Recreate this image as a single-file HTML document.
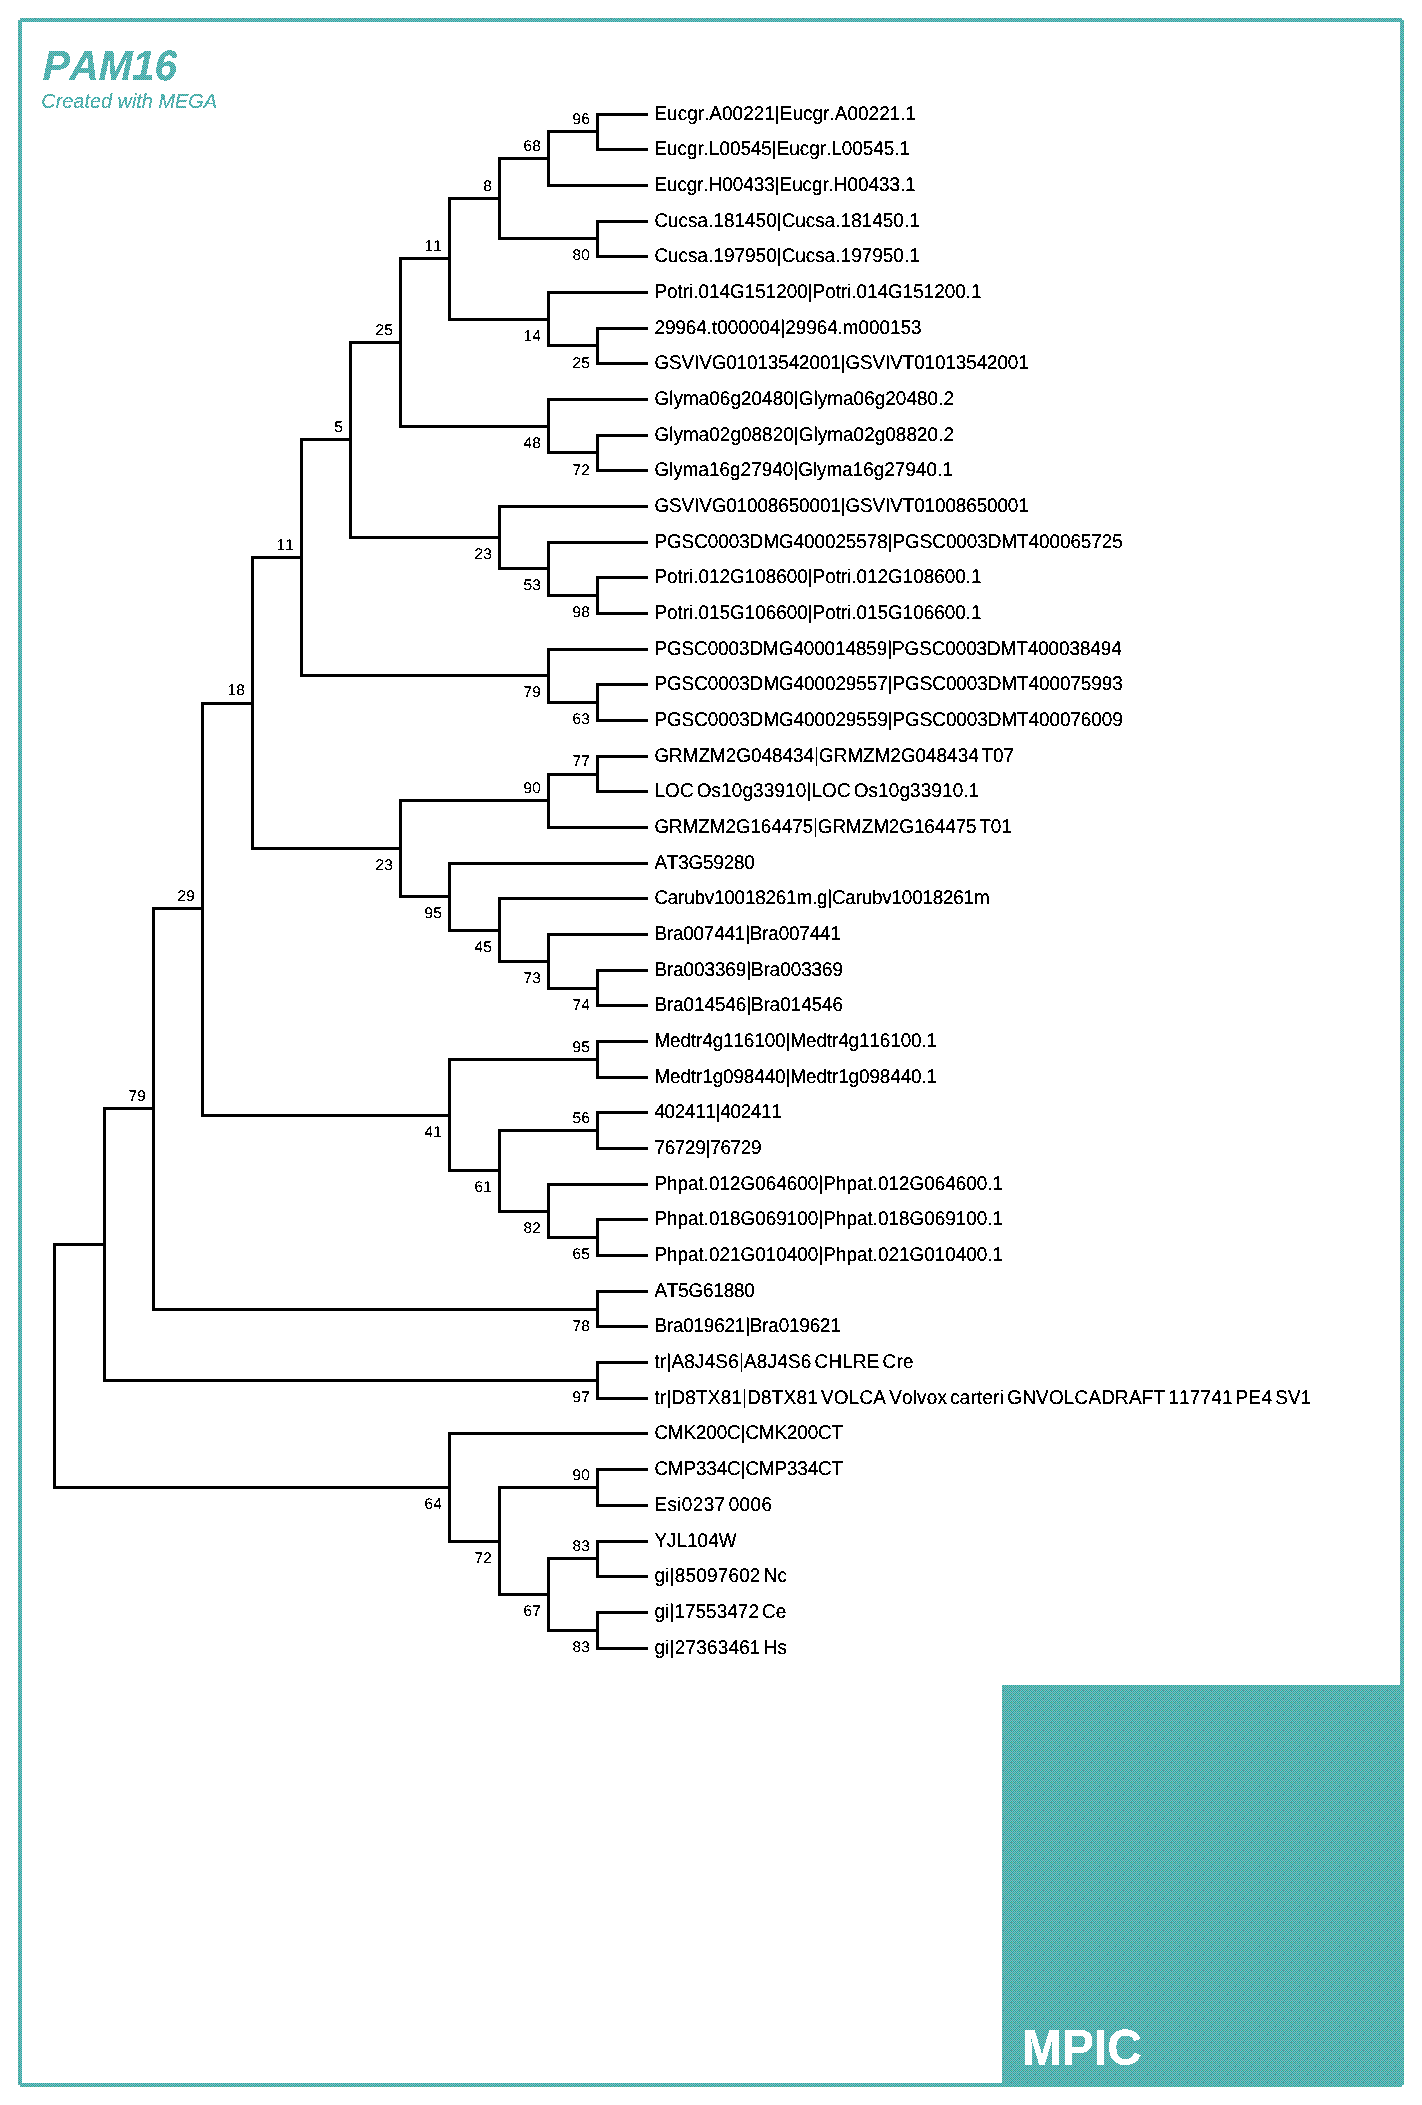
<!DOCTYPE html>
<html lang="en"><head><meta charset="utf-8"><title>PAM16</title>
<style>
html,body{margin:0;padding:0;background:#fff}
body{width:1422px;height:2105px;overflow:hidden}
svg{display:block}
text{font-family:"Liberation Sans",Arial,Helvetica,sans-serif;fill:#000;font-kerning:none;font-variant-ligatures:none}
.lf{font-size:18.9px;text-rendering:geometricPrecision}
.bs{font-size:15.5px;text-anchor:end;text-rendering:geometricPrecision}
</style></head><body>
<svg width="1422" height="2105" viewBox="0 0 1422 2105">
<rect width="1422" height="2105" fill="#fff"/>

<defs><pattern id="dt" width="16" height="16" patternUnits="userSpaceOnUse" shape-rendering="crispEdges"><rect width="16" height="16" fill="#339999"/><rect x="0" y="0" width="1" height="1" fill="#669999"/><rect x="1" y="0" width="1" height="1" fill="#66cccc"/><rect x="2" y="0" width="1" height="1" fill="#669999"/><rect x="3" y="0" width="1" height="1" fill="#66cccc"/><rect x="5" y="0" width="1" height="1" fill="#66cccc"/><rect x="6" y="0" width="1" height="1" fill="#669999"/><rect x="7" y="0" width="1" height="1" fill="#66cccc"/><rect x="8" y="0" width="1" height="1" fill="#669999"/><rect x="9" y="0" width="1" height="1" fill="#66cccc"/><rect x="10" y="0" width="1" height="1" fill="#669999"/><rect x="11" y="0" width="1" height="1" fill="#66cccc"/><rect x="12" y="0" width="1" height="1" fill="#669999"/><rect x="13" y="0" width="1" height="1" fill="#66cccc"/><rect x="14" y="0" width="1" height="1" fill="#669999"/><rect x="15" y="0" width="1" height="1" fill="#66cccc"/><rect x="0" y="1" width="1" height="1" fill="#66cccc"/><rect x="2" y="1" width="1" height="1" fill="#66cccc"/><rect x="4" y="1" width="1" height="1" fill="#66cccc"/><rect x="6" y="1" width="1" height="1" fill="#66cccc"/><rect x="8" y="1" width="1" height="1" fill="#66cccc"/><rect x="10" y="1" width="1" height="1" fill="#66cccc"/><rect x="12" y="1" width="1" height="1" fill="#66cccc"/><rect x="14" y="1" width="1" height="1" fill="#66cccc"/><rect x="0" y="2" width="1" height="1" fill="#669999"/><rect x="1" y="2" width="1" height="1" fill="#66cccc"/><rect x="3" y="2" width="2" height="1" fill="#669999"/><rect x="5" y="2" width="1" height="1" fill="#66cccc"/><rect x="7" y="2" width="1" height="1" fill="#66cccc"/><rect x="8" y="2" width="1" height="1" fill="#669999"/><rect x="9" y="2" width="1" height="1" fill="#66cccc"/><rect x="11" y="2" width="1" height="1" fill="#66cc99"/><rect x="12" y="2" width="1" height="1" fill="#669999"/><rect x="13" y="2" width="1" height="1" fill="#66cccc"/><rect x="15" y="2" width="1" height="1" fill="#66cccc"/><rect x="0" y="3" width="1" height="1" fill="#66cccc"/><rect x="2" y="3" width="1" height="1" fill="#66cccc"/><rect x="4" y="3" width="1" height="1" fill="#66cccc"/><rect x="6" y="3" width="1" height="1" fill="#66cccc"/><rect x="8" y="3" width="1" height="1" fill="#66cccc"/><rect x="10" y="3" width="1" height="1" fill="#66cccc"/><rect x="12" y="3" width="1" height="1" fill="#66cccc"/><rect x="14" y="3" width="1" height="1" fill="#66cccc"/><rect x="1" y="4" width="1" height="1" fill="#66cccc"/><rect x="2" y="4" width="1" height="1" fill="#669999"/><rect x="3" y="4" width="1" height="1" fill="#66cccc"/><rect x="4" y="4" width="1" height="1" fill="#669999"/><rect x="5" y="4" width="1" height="1" fill="#66cccc"/><rect x="6" y="4" width="1" height="1" fill="#669999"/><rect x="7" y="4" width="1" height="1" fill="#66cccc"/><rect x="9" y="4" width="1" height="1" fill="#66cccc"/><rect x="10" y="4" width="1" height="1" fill="#669999"/><rect x="11" y="4" width="1" height="1" fill="#66cccc"/><rect x="12" y="4" width="1" height="1" fill="#669999"/><rect x="13" y="4" width="1" height="1" fill="#66cccc"/><rect x="14" y="4" width="1" height="1" fill="#669999"/><rect x="15" y="4" width="1" height="1" fill="#66cccc"/><rect x="0" y="5" width="1" height="1" fill="#66cccc"/><rect x="2" y="5" width="1" height="1" fill="#66cccc"/><rect x="4" y="5" width="1" height="1" fill="#66cccc"/><rect x="6" y="5" width="1" height="1" fill="#66cccc"/><rect x="8" y="5" width="1" height="1" fill="#66cccc"/><rect x="10" y="5" width="1" height="1" fill="#66cccc"/><rect x="12" y="5" width="1" height="1" fill="#66cccc"/><rect x="14" y="5" width="1" height="1" fill="#66cccc"/><rect x="0" y="6" width="1" height="1" fill="#669999"/><rect x="1" y="6" width="1" height="1" fill="#66cccc"/><rect x="3" y="6" width="1" height="1" fill="#66cc99"/><rect x="4" y="6" width="1" height="1" fill="#669999"/><rect x="5" y="6" width="1" height="1" fill="#66cccc"/><rect x="7" y="6" width="1" height="1" fill="#66cc99"/><rect x="8" y="6" width="1" height="1" fill="#669999"/><rect x="9" y="6" width="1" height="1" fill="#66cccc"/><rect x="11" y="6" width="1" height="1" fill="#66cc99"/><rect x="12" y="6" width="1" height="1" fill="#669999"/><rect x="13" y="6" width="1" height="1" fill="#66cccc"/><rect x="15" y="6" width="1" height="1" fill="#66cc99"/><rect x="0" y="7" width="1" height="1" fill="#66cccc"/><rect x="2" y="7" width="1" height="1" fill="#66cccc"/><rect x="4" y="7" width="1" height="1" fill="#66cccc"/><rect x="6" y="7" width="1" height="1" fill="#66cccc"/><rect x="8" y="7" width="1" height="1" fill="#66cccc"/><rect x="10" y="7" width="1" height="1" fill="#66cccc"/><rect x="12" y="7" width="1" height="1" fill="#66cccc"/><rect x="14" y="7" width="1" height="1" fill="#66cccc"/><rect x="0" y="8" width="1" height="1" fill="#669999"/><rect x="1" y="8" width="1" height="1" fill="#66cccc"/><rect x="2" y="8" width="1" height="1" fill="#669999"/><rect x="3" y="8" width="1" height="1" fill="#66cccc"/><rect x="4" y="8" width="1" height="1" fill="#669999"/><rect x="5" y="8" width="1" height="1" fill="#66cccc"/><rect x="6" y="8" width="1" height="1" fill="#669999"/><rect x="7" y="8" width="1" height="1" fill="#66cccc"/><rect x="8" y="8" width="1" height="1" fill="#669999"/><rect x="9" y="8" width="1" height="1" fill="#66cccc"/><rect x="10" y="8" width="1" height="1" fill="#669999"/><rect x="11" y="8" width="1" height="1" fill="#66cccc"/><rect x="13" y="8" width="1" height="1" fill="#66cccc"/><rect x="14" y="8" width="1" height="1" fill="#669999"/><rect x="15" y="8" width="1" height="1" fill="#66cccc"/><rect x="0" y="9" width="1" height="1" fill="#66cccc"/><rect x="2" y="9" width="1" height="1" fill="#66cccc"/><rect x="4" y="9" width="1" height="1" fill="#66cccc"/><rect x="6" y="9" width="1" height="1" fill="#66cccc"/><rect x="8" y="9" width="1" height="1" fill="#66cccc"/><rect x="10" y="9" width="1" height="1" fill="#66cccc"/><rect x="12" y="9" width="1" height="1" fill="#66cccc"/><rect x="14" y="9" width="1" height="1" fill="#66cccc"/><rect x="0" y="10" width="1" height="1" fill="#669999"/><rect x="1" y="10" width="1" height="1" fill="#66cccc"/><rect x="3" y="10" width="1" height="1" fill="#66cc99"/><rect x="4" y="10" width="1" height="1" fill="#669999"/><rect x="5" y="10" width="1" height="1" fill="#66cccc"/><rect x="7" y="10" width="1" height="1" fill="#66cccc"/><rect x="8" y="10" width="1" height="1" fill="#669999"/><rect x="9" y="10" width="1" height="1" fill="#66cccc"/><rect x="11" y="10" width="2" height="1" fill="#669999"/><rect x="13" y="10" width="1" height="1" fill="#66cccc"/><rect x="15" y="10" width="1" height="1" fill="#66cccc"/><rect x="0" y="11" width="1" height="1" fill="#66cccc"/><rect x="2" y="11" width="1" height="1" fill="#66cccc"/><rect x="4" y="11" width="1" height="1" fill="#66cccc"/><rect x="6" y="11" width="1" height="1" fill="#66cccc"/><rect x="8" y="11" width="1" height="1" fill="#66cccc"/><rect x="10" y="11" width="1" height="1" fill="#66cccc"/><rect x="12" y="11" width="1" height="1" fill="#66cccc"/><rect x="14" y="11" width="1" height="1" fill="#66cccc"/><rect x="1" y="12" width="1" height="1" fill="#66cccc"/><rect x="2" y="12" width="1" height="1" fill="#669999"/><rect x="3" y="12" width="1" height="1" fill="#66cccc"/><rect x="4" y="12" width="1" height="1" fill="#669999"/><rect x="5" y="12" width="1" height="1" fill="#66cccc"/><rect x="6" y="12" width="1" height="1" fill="#669999"/><rect x="7" y="12" width="1" height="1" fill="#66cccc"/><rect x="9" y="12" width="1" height="1" fill="#66cccc"/><rect x="10" y="12" width="1" height="1" fill="#669999"/><rect x="11" y="12" width="1" height="1" fill="#66cccc"/><rect x="12" y="12" width="1" height="1" fill="#669999"/><rect x="13" y="12" width="1" height="1" fill="#66cccc"/><rect x="14" y="12" width="1" height="1" fill="#669999"/><rect x="15" y="12" width="1" height="1" fill="#66cccc"/><rect x="0" y="13" width="1" height="1" fill="#66cccc"/><rect x="2" y="13" width="1" height="1" fill="#66cccc"/><rect x="4" y="13" width="1" height="1" fill="#66cccc"/><rect x="6" y="13" width="1" height="1" fill="#66cccc"/><rect x="8" y="13" width="1" height="1" fill="#66cccc"/><rect x="10" y="13" width="1" height="1" fill="#66cccc"/><rect x="12" y="13" width="1" height="1" fill="#66cccc"/><rect x="14" y="13" width="1" height="1" fill="#66cccc"/><rect x="0" y="14" width="1" height="1" fill="#669999"/><rect x="1" y="14" width="1" height="1" fill="#66cccc"/><rect x="3" y="14" width="1" height="1" fill="#66cc99"/><rect x="4" y="14" width="1" height="1" fill="#669999"/><rect x="5" y="14" width="1" height="1" fill="#66cccc"/><rect x="7" y="14" width="1" height="1" fill="#66cc99"/><rect x="8" y="14" width="1" height="1" fill="#669999"/><rect x="9" y="14" width="1" height="1" fill="#66cccc"/><rect x="11" y="14" width="1" height="1" fill="#66cc99"/><rect x="12" y="14" width="1" height="1" fill="#669999"/><rect x="13" y="14" width="1" height="1" fill="#66cccc"/><rect x="15" y="14" width="1" height="1" fill="#66cc99"/><rect x="0" y="15" width="1" height="1" fill="#66cccc"/><rect x="2" y="15" width="1" height="1" fill="#66cccc"/><rect x="4" y="15" width="1" height="1" fill="#66cccc"/><rect x="6" y="15" width="1" height="1" fill="#66cccc"/><rect x="8" y="15" width="1" height="1" fill="#66cccc"/><rect x="10" y="15" width="1" height="1" fill="#66cccc"/><rect x="12" y="15" width="1" height="1" fill="#66cccc"/><rect x="14" y="15" width="1" height="1" fill="#66cccc"/></pattern><filter id="bw" x="0" y="0" width="1422" height="2105" filterUnits="userSpaceOnUse" color-interpolation-filters="sRGB"><feComponentTransfer><feFuncA type="discrete" tableValues="0 1 1"/></feComponentTransfer></filter><filter id="bw2" x="0" y="0" width="1422" height="2105" filterUnits="userSpaceOnUse" color-interpolation-filters="sRGB"><feComponentTransfer><feFuncA type="discrete" tableValues="0 0 1 1 1"/></feComponentTransfer></filter></defs>
<g fill="url(#dt)">
<rect x="1002" y="1685" width="400" height="400" shape-rendering="crispEdges"/>
<path d="M20 20H1402V2085H20Z" fill="none" stroke="url(#dt)" stroke-width="4" shape-rendering="crispEdges"/>
<path d="M18 18h2v2h-2zM1402 18h2v2h-2zM18 2085h2v2h-2zM1402 2085h2v2h-2z" fill="#fff" shape-rendering="crispEdges"/>
<g filter="url(#bw)"><text transform="translate(42.6 79.6) skewX(-1.6) scale(1 1.057)" style="font-size:40.2px;font-weight:bold;font-style:italic;fill:#000">PAM16</text>
<text transform="translate(41.35 107.5) scale(1 1.04)" style="font-size:19.88px;font-style:italic;fill:#000">Created with MEGA</text>
<text transform="translate(1022 2064.6) scale(1 1.053)" style="font-size:47.9px;font-weight:bold;fill:#fff">MPIC</text></g>
<rect x="30" y="40" width="200" height="76" shape-rendering="crispEdges" style="mix-blend-mode:lighten"/>
</g>
<g fill="#000" shape-rendering="crispEdges">
<rect x="53" y="1243" width="3" height="246"/>
<rect x="53" y="1243" width="53" height="3"/>
<rect x="103" y="1107" width="3" height="275"/>
<rect x="103" y="1107" width="52" height="3"/>
<rect x="152" y="907" width="3" height="404"/>
<rect x="152" y="907" width="52" height="3"/>
<rect x="201" y="702" width="3" height="415"/>
<rect x="201" y="702" width="53" height="3"/>
<rect x="251" y="556" width="3" height="294"/>
<rect x="251" y="556" width="52" height="3"/>
<rect x="300" y="438" width="3" height="239"/>
<rect x="300" y="438" width="52" height="3"/>
<rect x="349" y="341" width="3" height="198"/>
<rect x="349" y="341" width="53" height="3"/>
<rect x="399" y="257" width="3" height="171"/>
<rect x="399" y="257" width="52" height="3"/>
<rect x="448" y="197" width="3" height="124"/>
<rect x="448" y="197" width="53" height="3"/>
<rect x="498" y="157" width="3" height="83"/>
<rect x="498" y="157" width="52" height="3"/>
<rect x="547" y="130" width="3" height="57"/>
<rect x="547" y="130" width="52" height="3"/>
<rect x="596" y="113" width="3" height="38"/>
<rect x="596" y="113" width="52" height="3"/>
<rect x="596" y="148" width="52" height="3"/>
<rect x="547" y="184" width="101" height="3"/>
<rect x="498" y="237" width="101" height="3"/>
<rect x="596" y="220" width="3" height="38"/>
<rect x="596" y="220" width="52" height="3"/>
<rect x="596" y="255" width="52" height="3"/>
<rect x="448" y="318" width="102" height="3"/>
<rect x="547" y="291" width="3" height="56"/>
<rect x="547" y="291" width="101" height="3"/>
<rect x="547" y="344" width="52" height="3"/>
<rect x="596" y="327" width="3" height="38"/>
<rect x="596" y="327" width="52" height="3"/>
<rect x="596" y="362" width="52" height="3"/>
<rect x="399" y="425" width="151" height="3"/>
<rect x="547" y="398" width="3" height="56"/>
<rect x="547" y="398" width="101" height="3"/>
<rect x="547" y="451" width="52" height="3"/>
<rect x="596" y="434" width="3" height="38"/>
<rect x="596" y="434" width="52" height="3"/>
<rect x="596" y="469" width="52" height="3"/>
<rect x="349" y="536" width="152" height="3"/>
<rect x="498" y="505" width="3" height="65"/>
<rect x="498" y="505" width="150" height="3"/>
<rect x="498" y="567" width="52" height="3"/>
<rect x="547" y="541" width="3" height="56"/>
<rect x="547" y="541" width="101" height="3"/>
<rect x="547" y="594" width="52" height="3"/>
<rect x="596" y="576" width="3" height="39"/>
<rect x="596" y="576" width="52" height="3"/>
<rect x="596" y="612" width="52" height="3"/>
<rect x="300" y="674" width="250" height="3"/>
<rect x="547" y="648" width="3" height="56"/>
<rect x="547" y="648" width="101" height="3"/>
<rect x="547" y="701" width="52" height="3"/>
<rect x="596" y="683" width="3" height="39"/>
<rect x="596" y="683" width="52" height="3"/>
<rect x="596" y="719" width="52" height="3"/>
<rect x="251" y="847" width="151" height="3"/>
<rect x="399" y="799" width="3" height="99"/>
<rect x="399" y="799" width="151" height="3"/>
<rect x="547" y="773" width="3" height="56"/>
<rect x="547" y="773" width="52" height="3"/>
<rect x="596" y="755" width="3" height="38"/>
<rect x="596" y="755" width="52" height="3"/>
<rect x="596" y="790" width="52" height="3"/>
<rect x="547" y="826" width="101" height="3"/>
<rect x="399" y="895" width="52" height="3"/>
<rect x="448" y="862" width="3" height="70"/>
<rect x="448" y="862" width="200" height="3"/>
<rect x="448" y="929" width="53" height="3"/>
<rect x="498" y="897" width="3" height="66"/>
<rect x="498" y="897" width="150" height="3"/>
<rect x="498" y="960" width="52" height="3"/>
<rect x="547" y="933" width="3" height="57"/>
<rect x="547" y="933" width="101" height="3"/>
<rect x="547" y="987" width="52" height="3"/>
<rect x="596" y="969" width="3" height="38"/>
<rect x="596" y="969" width="52" height="3"/>
<rect x="596" y="1004" width="52" height="3"/>
<rect x="201" y="1114" width="250" height="3"/>
<rect x="448" y="1058" width="3" height="114"/>
<rect x="448" y="1058" width="151" height="3"/>
<rect x="596" y="1040" width="3" height="39"/>
<rect x="596" y="1040" width="52" height="3"/>
<rect x="596" y="1076" width="52" height="3"/>
<rect x="448" y="1169" width="53" height="3"/>
<rect x="498" y="1129" width="3" height="84"/>
<rect x="498" y="1129" width="101" height="3"/>
<rect x="596" y="1111" width="3" height="39"/>
<rect x="596" y="1111" width="52" height="3"/>
<rect x="596" y="1147" width="52" height="3"/>
<rect x="498" y="1210" width="52" height="3"/>
<rect x="547" y="1183" width="3" height="56"/>
<rect x="547" y="1183" width="101" height="3"/>
<rect x="547" y="1236" width="52" height="3"/>
<rect x="596" y="1218" width="3" height="39"/>
<rect x="596" y="1218" width="52" height="3"/>
<rect x="596" y="1254" width="52" height="3"/>
<rect x="152" y="1308" width="447" height="3"/>
<rect x="596" y="1290" width="3" height="38"/>
<rect x="596" y="1290" width="52" height="3"/>
<rect x="596" y="1325" width="52" height="3"/>
<rect x="103" y="1379" width="496" height="3"/>
<rect x="596" y="1361" width="3" height="39"/>
<rect x="596" y="1361" width="52" height="3"/>
<rect x="596" y="1397" width="52" height="3"/>
<rect x="53" y="1486" width="398" height="3"/>
<rect x="448" y="1432" width="3" height="111"/>
<rect x="448" y="1432" width="200" height="3"/>
<rect x="448" y="1540" width="53" height="3"/>
<rect x="498" y="1486" width="3" height="110"/>
<rect x="498" y="1486" width="101" height="3"/>
<rect x="596" y="1468" width="3" height="39"/>
<rect x="596" y="1468" width="52" height="3"/>
<rect x="596" y="1504" width="52" height="3"/>
<rect x="498" y="1593" width="52" height="3"/>
<rect x="547" y="1557" width="3" height="75"/>
<rect x="547" y="1557" width="52" height="3"/>
<rect x="596" y="1540" width="3" height="38"/>
<rect x="596" y="1540" width="52" height="3"/>
<rect x="596" y="1575" width="52" height="3"/>
<rect x="547" y="1629" width="52" height="3"/>
<rect x="596" y="1611" width="3" height="39"/>
<rect x="596" y="1611" width="52" height="3"/>
<rect x="596" y="1647" width="52" height="3"/>
</g>
<g class="lf" filter="url(#bw)">
<text transform="translate(654.4 119.75) scale(1 1.05)" style="letter-spacing:0.062px">Eucgr.A00221|Eucgr.A00221.1</text>
<text transform="translate(654.4 154.75) scale(1 1.05)" style="letter-spacing:-0.015px">Eucgr.L00545|Eucgr.L00545.1</text>
<text transform="translate(654.4 190.75) scale(1 1.05)" style="letter-spacing:-0.038px">Eucgr.H00433|Eucgr.H00433.1</text>
<text transform="translate(654.4 226.75) scale(1 1.05)" style="letter-spacing:0.038px">Cucsa.181450|Cucsa.181450.1</text>
<text transform="translate(654.4 261.75) scale(1 1.05)" style="letter-spacing:0.038px">Cucsa.197950|Cucsa.197950.1</text>
<text transform="translate(654.4 297.75) scale(1 1.05)" style="letter-spacing:-0.006px">Potri.014G151200|Potri.014G151200.1</text>
<text transform="translate(654.4 333.75) scale(1 1.05)" style="letter-spacing:-0.015px">29964.t000004|29964.m000153</text>
<text transform="translate(654.4 368.75) scale(1 1.05)" style="letter-spacing:-0.100px">GSVIVG01013542001|GSVIVT01013542001</text>
<text transform="translate(654.4 404.75) scale(1 1.05)" style="letter-spacing:0.057px">Glyma06g20480|Glyma06g20480.2</text>
<text transform="translate(654.4 440.75) scale(1 1.05)" style="letter-spacing:0.057px">Glyma02g08820|Glyma02g08820.2</text>
<text transform="translate(654.4 475.75) scale(1 1.05)" style="letter-spacing:0.014px">Glyma16g27940|Glyma16g27940.1</text>
<text transform="translate(654.4 511.75) scale(1 1.05)" style="letter-spacing:-0.100px">GSVIVG01008650001|GSVIVT01008650001</text>
<text transform="translate(654.4 547.75) scale(1 1.05)" style="letter-spacing:-0.045px">PGSC0003DMG400025578|PGSC0003DMT400065725</text>
<text transform="translate(654.4 582.75) scale(1 1.05)" style="letter-spacing:-0.006px">Potri.012G108600|Potri.012G108600.1</text>
<text transform="translate(654.4 618.75) scale(1 1.05)" style="letter-spacing:-0.006px">Potri.015G106600|Potri.015G106600.1</text>
<text transform="translate(654.4 654.75) scale(1 1.05)" style="letter-spacing:-0.070px">PGSC0003DMG400014859|PGSC0003DMT400038494</text>
<text transform="translate(654.4 689.75) scale(1 1.05)" style="letter-spacing:-0.045px">PGSC0003DMG400029557|PGSC0003DMT400075993</text>
<text transform="translate(654.4 725.75) scale(1 1.05)" style="letter-spacing:-0.045px">PGSC0003DMG400029559|PGSC0003DMT400076009</text>
<text transform="translate(654.4 761.75) scale(1 1.05)" style="letter-spacing:0.007px;word-spacing:-2.4px">GRMZM2G048434|GRMZM2G048434 T07</text>
<text transform="translate(654.4 796.75) scale(1 1.05)" style="letter-spacing:0.147px;word-spacing:-2.4px">LOC Os10g33910|LOC Os10g33910.1</text>
<text transform="translate(654.4 832.75) scale(1 1.05)" style="letter-spacing:-0.073px;word-spacing:-2.4px">GRMZM2G164475|GRMZM2G164475 T01</text>
<text transform="translate(654.4 868.75) scale(1 1.05)" style="letter-spacing:-0.175px">AT3G59280</text>
<text transform="translate(654.4 903.75) scale(1 1.05)" style="letter-spacing:-0.212px">Carubv10018261m.g|Carubv10018261m</text>
<text transform="translate(654.4 939.75) scale(1 1.05)" style="letter-spacing:-0.189px">Bra007441|Bra007441</text>
<text transform="translate(654.4 975.75) scale(1 1.05)" style="letter-spacing:-0.067px">Bra003369|Bra003369</text>
<text transform="translate(654.4 1010.75) scale(1 1.05)" style="letter-spacing:-0.067px">Bra014546|Bra014546</text>
<text transform="translate(654.4 1046.75) scale(1 1.05)" style="letter-spacing:-0.093px">Medtr4g116100|Medtr4g116100.1</text>
<text transform="translate(654.4 1082.75) scale(1 1.05)" style="letter-spacing:-0.093px">Medtr1g098440|Medtr1g098440.1</text>
<text transform="translate(654.4 1117.75) scale(1 1.05)" style="letter-spacing:-0.300px">402411|402411</text>
<text transform="translate(654.4 1153.75) scale(1 1.05)" style="letter-spacing:-0.280px">76729|76729</text>
<text transform="translate(654.4 1189.75) scale(1 1.05)" style="letter-spacing:0.006px">Phpat.012G064600|Phpat.012G064600.1</text>
<text transform="translate(654.4 1224.75) scale(1 1.05)" style="letter-spacing:0.006px">Phpat.018G069100|Phpat.018G069100.1</text>
<text transform="translate(654.4 1260.75) scale(1 1.05)" style="letter-spacing:0.006px">Phpat.021G010400|Phpat.021G010400.1</text>
<text transform="translate(654.4 1296.75) scale(1 1.05)" style="letter-spacing:-0.175px">AT5G61880</text>
<text transform="translate(654.4 1331.75) scale(1 1.05)" style="letter-spacing:-0.189px">Bra019621|Bra019621</text>
<text transform="translate(654.4 1367.75) scale(1 1.05)" style="letter-spacing:0.208px;word-spacing:-2.4px">tr|A8J4S6|A8J4S6 CHLRE Cre</text>
<text transform="translate(654.4 1403.75) scale(1 1.05)" style="letter-spacing:0.219px;word-spacing:-2.4px">tr|D8TX81|D8TX81 VOLCA Volvox carteri GNVOLCADRAFT 117741 PE4 SV1</text>
<text transform="translate(654.4 1438.75) scale(1 1.05)" style="letter-spacing:-0.133px">CMK200C|CMK200CT</text>
<text transform="translate(654.4 1474.75) scale(1 1.05)" style="letter-spacing:-0.133px">CMP334C|CMP334CT</text>
<text transform="translate(654.4 1510.75) scale(1 1.05)" style="letter-spacing:0.400px;word-spacing:-2.4px">Esi0237 0006</text>
<text transform="translate(654.4 1546.75) scale(1 1.05)" style="letter-spacing:0.033px">YJL104W</text>
<text transform="translate(654.4 1581.75) scale(1 1.05)" style="letter-spacing:0.231px;word-spacing:-2.4px">gi|85097602 Nc</text>
<text transform="translate(654.4 1617.75) scale(1 1.05)" style="letter-spacing:0.092px;word-spacing:-2.4px">gi|17553472 Ce</text>
<text transform="translate(654.4 1653.75) scale(1 1.05)" style="letter-spacing:0.231px;word-spacing:-2.4px">gi|27363461 Hs</text>
</g><g class="bs" filter="url(#bw2)">
<text x="145.8" y="1101">79</text>
<text x="194.8" y="901">29</text>
<text x="244.8" y="695">18</text>
<text x="293.8" y="550">11</text>
<text x="342.8" y="432">5</text>
<text x="392.8" y="335">25</text>
<text x="441.8" y="251">11</text>
<text x="491.8" y="191">8</text>
<text x="540.8" y="151">68</text>
<text x="589.8" y="124">96</text>
<text x="589.8" y="260">80</text>
<text x="540.8" y="341">14</text>
<text x="589.8" y="368">25</text>
<text x="540.8" y="448">48</text>
<text x="589.8" y="475">72</text>
<text x="491.8" y="559">23</text>
<text x="540.8" y="590">53</text>
<text x="589.8" y="617">98</text>
<text x="540.8" y="697">79</text>
<text x="589.8" y="724">63</text>
<text x="392.8" y="870">23</text>
<text x="540.8" y="793">90</text>
<text x="589.8" y="766">77</text>
<text x="441.8" y="918">95</text>
<text x="491.8" y="952">45</text>
<text x="540.8" y="983">73</text>
<text x="589.8" y="1010">74</text>
<text x="441.8" y="1137">41</text>
<text x="589.8" y="1052">95</text>
<text x="491.8" y="1192">61</text>
<text x="589.8" y="1123">56</text>
<text x="540.8" y="1233">82</text>
<text x="589.8" y="1259">65</text>
<text x="589.8" y="1331">78</text>
<text x="589.8" y="1402">97</text>
<text x="441.8" y="1509">64</text>
<text x="491.8" y="1563">72</text>
<text x="589.8" y="1480">90</text>
<text x="540.8" y="1616">67</text>
<text x="589.8" y="1551">83</text>
<text x="589.8" y="1652">83</text>
</g>
</svg></body></html>
